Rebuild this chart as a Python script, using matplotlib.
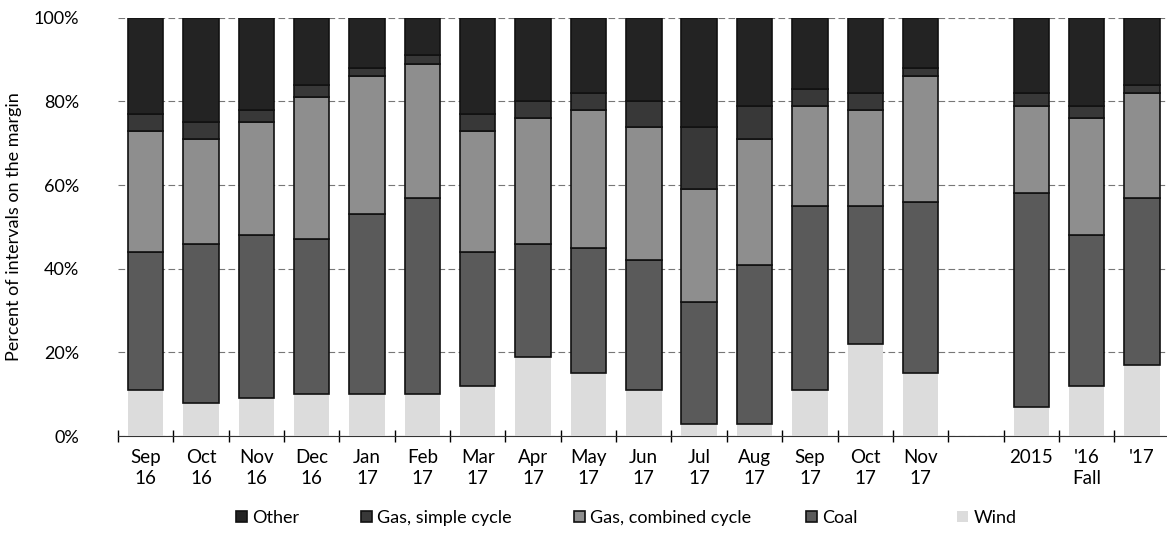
import numpy as np
import matplotlib
matplotlib.use("Agg")
import matplotlib.pyplot as plt
from matplotlib.ticker import PercentFormatter

plt.rcParams['font.family'] = ['Lato', 'DejaVu Sans']

labels = ["Sep\n16", "Oct\n16", "Nov\n16", "Dec\n16", "Jan\n17", "Feb\n17", "Mar\n17",
          "Apr\n17", "May\n17", "Jun\n17", "Jul\n17", "Aug\n17", "Sep\n17", "Oct\n17",
          "Nov\n17", "", "2015\n", "'16\nFall", "'17\n"]

# percent of intervals, one entry per slot (None = the empty gap slot)
wind =   [11, 8, 9, 10, 10, 10, 12, 19, 15, 11, 3, 3, 11, 22, 15, None, 7, 12, 17]
coal =   [33, 38, 39, 37, 43, 47, 32, 27, 30, 31, 29, 38, 44, 33, 41, None, 51, 36, 40]
gas_cc = [29, 25, 27, 34, 33, 32, 29, 30, 33, 32, 27, 30, 24, 23, 30, None, 21, 28, 25]
gas_sc = [4, 4, 3, 3, 2, 2, 4, 4, 4, 6, 15, 8, 4, 4, 2, None, 3, 3, 2]
other =  [23, 25, 22, 16, 12, 9, 23, 20, 18, 20, 26, 21, 17, 18, 12, None, 18, 21, 16]

series = [("Wind", wind, "#dcdcdc"),
          ("Coal", coal, "#5a5a5a"),
          ("Gas, combined cycle", gas_cc, "#8e8e8e"),
          ("Gas, simple cycle", gas_sc, "#383838"),
          ("Other", other, "#232323")]

fig, ax = plt.subplots(figsize=(11.67, 5.39), dpi=100)
fig.subplots_adjust(left=0.101, right=1.0, top=0.967, bottom=0.191)

x = np.arange(len(labels))
keep = np.array([v is not None for v in wind])
bottom = np.zeros(keep.sum())
handles = {}
for name, vals, col in series:
    v = np.array([a for a in vals if a is not None], dtype=float)
    ec = "none" if name == "Wind" else "#111111"
    h = ax.bar(x[keep], v, width=0.64, bottom=bottom, color=col, edgecolor=ec,
               linewidth=1.2, zorder=3)
    handles[name] = h
    bottom += v

ax.set_ylim(0, 100)
ax.set_xlim(-0.5, 18.45)
ax.set_yticks([0, 20, 40, 60, 80, 100])
ax.yaxis.set_major_formatter(PercentFormatter(decimals=0))
ax.grid(axis='y', linestyle=(0, (6, 3)), color='#777777', linewidth=0.8, zorder=0)

ax.set_xticks(x)
ax.set_xticklabels(labels, fontsize=13.5, linespacing=1.3)
ax.set_xticks(np.arange(-0.5, 18.5, 1), minor=True)
ax.tick_params(axis='x', which='major', length=0, pad=9)
ax.tick_params(axis='x', which='minor', length=8, direction='inout', width=1)
ax.tick_params(axis='y', labelsize=13, length=0, pad=28)

for s in ['top', 'right', 'left']:
    ax.spines[s].set_visible(False)
ax.spines['bottom'].set_color('#333333')

ax.set_ylabel("Percent of intervals on the margin", fontsize=13, labelpad=8)

# legend entries sit at uneven spacing in the original, so one small legend each
order = ["Other", "Gas, simple cycle", "Gas, combined cycle", "Coal", "Wind"]
leg_x = [236, 361, 574, 806, 957]
for name, px in zip(order, leg_x):
    fig.legend([handles[name]], [name], loc='lower left',
               bbox_to_anchor=(px / 1167, 0.024), frameon=False, fontsize=13,
               handlelength=0.6, handleheight=0.6, handletextpad=0.3,
               borderpad=0, borderaxespad=0)

fig.savefig("out.png", dpi=100)
